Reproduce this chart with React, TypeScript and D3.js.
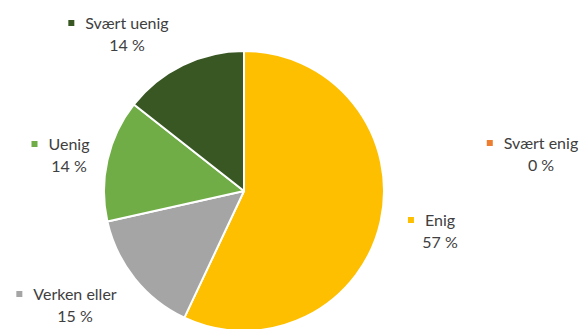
import React from "react";
import * as d3 from "d3";

const categories = ["Svært enig", "Enig", "Verken eller", "Uenig", "Svært uenig"];
const values = [0, 57.0, 14.5, 14.1, 14.4];
const colors = ["#ED7D31", "#FDBF00", "#A5A5A5", "#70AD47", "#385723"];
// label anchor: center of text block, first-line baseline
const labelPos: [number, number][] = [
  [541, 149],
  [440, 226],
  [75, 300],
  [69, 150],
  [127, 29],
];

const W = 584;
const H = 329;
const cx = 244;
const cy = 191;
const R = 140;
const FONT = "Lato, 'Open Sans', sans-serif";
const FS = 16;

function measure(text: string): number {
  const c = document.createElement("canvas");
  const ctx = c.getContext("2d");
  if (!ctx) return text.length * 7;
  ctx.font = `${FS}px ${FONT}`;
  return ctx.measureText(text).width;
}

export default function App() {
  const pie = d3
    .pie<number>()
    .sort(null)
    .value((d) => d)
    .startAngle(0)
    .endAngle(2 * Math.PI);
  const arcs = pie(values);
  const arc = d3.arc<d3.PieArcDatum<number>>().innerRadius(0).outerRadius(R);
  return (
    <svg
      width={W}
      height={H}
      style={{ position: "absolute", left: 0, top: 0, background: "#fff" }}
    >
      <g transform={`translate(${cx},${cy})`}>
        {arcs.map((a, i) =>
          a.endAngle - a.startAngle > 0 ? (
            <path key={i} d={arc(a) || ""} fill={colors[i]} stroke="#fff" strokeWidth={2} strokeLinejoin="round" />
          ) : null
        )}
      </g>
      {categories.map((c, i) => {
        const [x, y] = labelPos[i];
        const pct = `${Math.round(values[i])} %`;
        const w = measure(c);
        const sqx = x - w / 2 - 14;
        return (
          <g key={c} fontFamily={FONT} fontSize={FS} fill="#404040">
            <rect x={sqx - 3} y={y - 9} width={6} height={6} fill={colors[i]} />
            <text x={x} y={y} textAnchor="middle">{c}</text>
            <text x={x} y={y + 22} textAnchor="middle">{pct}</text>
          </g>
        );
      })}
    </svg>
  );
}
